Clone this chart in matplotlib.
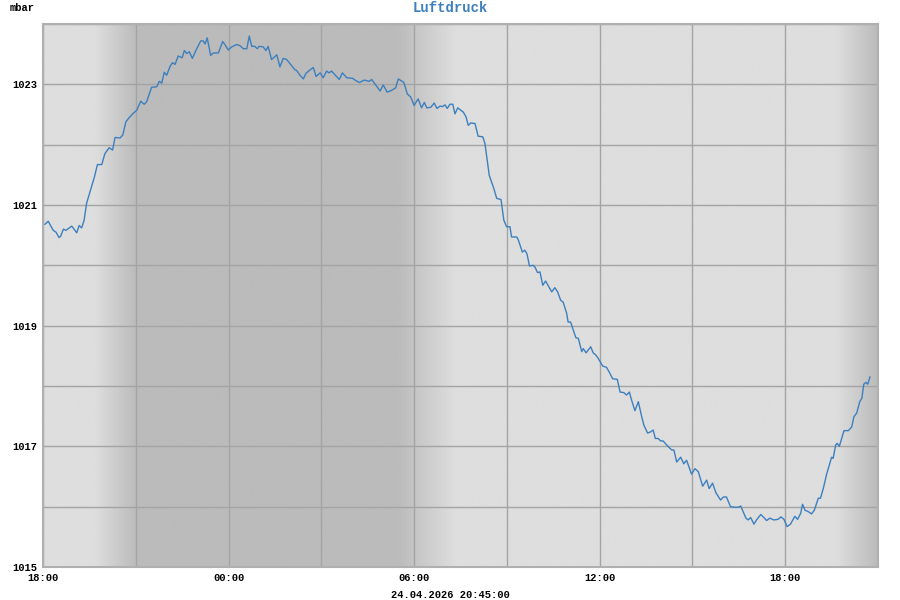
import numpy as np
import matplotlib
matplotlib.use("Agg")
import matplotlib.pyplot as plt
from matplotlib.colors import LinearSegmentedColormap

# hours since 18:00 on the first day
hours = [0.06, 0.17, 0.33, 0.42, 0.52, 0.57, 0.66, 0.74, 0.93, 1.09, 1.17, 1.25, 1.33, 1.41,
         1.66, 1.76, 1.90, 2.00, 2.14, 2.25, 2.33, 2.49, 2.58, 2.68, 2.79, 2.92, 3.03, 3.16,
         3.27, 3.35, 3.51, 3.68, 3.76, 3.84, 3.92, 4.00, 4.11, 4.19, 4.27, 4.37, 4.50, 4.57,
         4.65, 4.73, 4.83, 4.97, 5.10, 5.18, 5.24, 5.31, 5.42, 5.51, 5.67, 5.81, 5.88, 5.99,
         6.10, 6.26, 6.37, 6.48, 6.59, 6.67, 6.75, 6.85, 6.93, 6.99, 7.12, 7.21, 7.28, 7.39,
         7.56, 7.66, 7.77, 7.88, 8.04, 8.15, 8.20, 8.31, 8.42, 8.50, 8.61, 8.74, 8.83, 8.96,
         9.06, 9.17, 9.25, 9.33, 9.58, 9.68, 9.82, 10.01, 10.09, 10.23, 10.39, 10.55, 10.63,
         10.90, 11.00, 11.13, 11.27, 11.40, 11.49, 11.67, 11.78, 11.89, 12.00, 12.13, 12.24,
         12.33, 12.41, 12.54, 12.65, 12.74, 12.84, 12.92, 13.00, 13.07, 13.16, 13.25, 13.32,
         13.41, 13.59, 13.68, 13.75, 13.83, 13.97, 14.07, 14.22, 14.29, 14.43, 14.58, 14.67,
         14.81, 14.90, 14.99, 15.10, 15.15, 15.32, 15.37, 15.50, 15.58, 15.65, 15.73, 15.85,
         15.91, 15.99, 16.07, 16.16, 16.25, 16.45, 16.55, 16.64, 16.74, 16.82, 16.93, 16.98,
         17.06, 17.23, 17.31, 17.42, 17.47, 17.56, 17.71, 17.79, 17.88, 17.95, 18.10, 18.22,
         18.31, 18.42, 18.57, 18.66, 18.78, 18.87, 18.96, 19.03, 19.14, 19.25, 19.36, 19.43,
         19.55, 19.65, 19.73, 19.80, 19.89, 19.97, 20.05, 20.17, 20.33, 20.40, 20.49, 20.62,
         20.72, 20.81, 20.97, 21.08, 21.19, 21.33, 21.46, 21.54, 21.65, 21.76, 21.91, 22.00,
         22.10, 22.23, 22.37, 22.48, 22.56, 22.73, 22.80, 22.88, 22.99, 23.07, 23.21, 23.31,
         23.40, 23.50, 23.63, 23.77, 23.86, 23.96, 24.06, 24.17, 24.31, 24.40, 24.50, 24.56,
         24.64, 24.74, 24.85, 24.94, 25.07, 25.14, 25.23, 25.34, 25.50, 25.55, 25.63, 25.68,
         25.75, 25.90, 26.04, 26.15, 26.22, 26.31, 26.41, 26.48, 26.54, 26.61, 26.67, 26.74]

pressure = [1020.68, 1020.73, 1020.58, 1020.55, 1020.46, 1020.48, 1020.60, 1020.58, 1020.65,
            1020.54, 1020.66, 1020.62, 1020.75, 1021.03, 1021.46, 1021.67, 1021.67, 1021.85,
            1021.95, 1021.91, 1022.12, 1022.11, 1022.16, 1022.38, 1022.45, 1022.52, 1022.57,
            1022.72, 1022.67, 1022.71, 1022.95, 1022.96, 1023.05, 1023.02, 1023.20, 1023.15,
            1023.30, 1023.36, 1023.33, 1023.47, 1023.44, 1023.56, 1023.51, 1023.54, 1023.43,
            1023.59, 1023.72, 1023.72, 1023.67, 1023.77, 1023.48, 1023.52, 1023.52, 1023.71,
            1023.66, 1023.57, 1023.62, 1023.66, 1023.64, 1023.59, 1023.59, 1023.80, 1023.63,
            1023.63, 1023.59, 1023.63, 1023.62, 1023.56, 1023.63, 1023.41, 1023.49, 1023.29,
            1023.43, 1023.41, 1023.31, 1023.24, 1023.23, 1023.15, 1023.09, 1023.18, 1023.23,
            1023.28, 1023.13, 1023.19, 1023.11, 1023.22, 1023.19, 1023.22, 1023.08, 1023.19,
            1023.11, 1023.10, 1023.07, 1023.03, 1023.07, 1023.05, 1023.08, 1022.89, 1022.99,
            1022.87, 1022.90, 1022.94, 1023.09, 1023.03, 1022.84, 1022.79, 1022.65, 1022.76,
            1022.61, 1022.70, 1022.61, 1022.62, 1022.69, 1022.60, 1022.64, 1022.63, 1022.66,
            1022.60, 1022.67, 1022.67, 1022.51, 1022.61, 1022.54, 1022.46, 1022.32, 1022.36,
            1022.35, 1022.14, 1022.13, 1022.02, 1021.49, 1021.27, 1021.11, 1021.09, 1020.75,
            1020.64, 1020.64, 1020.47, 1020.47, 1020.42, 1020.22, 1020.25, 1020.19, 1019.99,
            1020.00, 1019.97, 1019.88, 1019.89, 1019.67, 1019.74, 1019.56, 1019.63, 1019.56,
            1019.42, 1019.39, 1019.21, 1019.06, 1019.06, 1018.80, 1018.79, 1018.57, 1018.62,
            1018.55, 1018.65, 1018.55, 1018.51, 1018.46, 1018.33, 1018.31, 1018.23, 1018.12,
            1018.11, 1017.90, 1017.89, 1017.85, 1017.90, 1017.77, 1017.59, 1017.74, 1017.49,
            1017.35, 1017.22, 1017.24, 1017.27, 1017.13, 1017.13, 1017.09, 1017.09, 1017.02,
            1016.94, 1016.94, 1016.74, 1016.82, 1016.71, 1016.77, 1016.54, 1016.63, 1016.58,
            1016.34, 1016.44, 1016.30, 1016.39, 1016.23, 1016.11, 1016.16, 1016.16, 1016.00,
            1015.99, 1015.99, 1016.01, 1015.81, 1015.78, 1015.82, 1015.71, 1015.78, 1015.87,
            1015.82, 1015.77, 1015.81, 1015.78, 1015.79, 1015.83, 1015.79, 1015.67, 1015.71,
            1015.84, 1015.79, 1015.89, 1016.04, 1015.94, 1015.92, 1015.88, 1015.94, 1016.14,
            1016.14, 1016.30, 1016.54, 1016.82, 1016.80, 1017.02, 1017.05, 1017.00, 1017.26,
            1017.26, 1017.32, 1017.49, 1017.55, 1017.74, 1017.80, 1018.03, 1018.06, 1018.03,
            1018.15]

x_ticks = [0, 6, 12, 18, 24]
x_tick_labels = ["18:00", "00:00", "06:00", "12:00", "18:00"]
y_ticks = [1015, 1017, 1019, 1021, 1023]
title = "Luftdruck"
unit = "mbar"
stamp = "24.04.2026 20:45:00"

# twilight / night shading (hours since 18:00): dusk start, dark, dawn start, light, dusk2 start
dusk1 = (1.68, 3.03)
dawn = (11.45, 13.35)
dusk2 = (25.65, 27.0)

FONT = ["Liberation Mono", "DejaVu Sans Mono"]
plt.rcParams["font.family"] = FONT
plt.rcParams["font.weight"] = "bold"

fig = plt.figure(figsize=(9, 6), dpi=100)
ax = fig.add_axes([43 / 900, 1 - 567 / 600, (878 - 43) / 900, (567 - 24) / 600])
ax.set_xlim(0, 27)
ax.set_ylim(1015, 1024)

# background gradient
xs = np.linspace(0, 27, 2000)
light, dark = 0.0, 1.0
shade = np.zeros_like(xs)
shade = np.where(xs >= dusk1[0], np.clip((xs - dusk1[0]) / (dusk1[1] - dusk1[0]), 0, 1), 0.0)
shade = np.where(xs >= dawn[0], np.clip(1 - (xs - dawn[0]) / (dawn[1] - dawn[0]), 0, 1), shade)
shade = np.where(xs >= dusk2[0], np.clip((xs - dusk2[0]) / (dusk2[1] - dusk2[0]), 0, 1), shade)
cmap = LinearSegmentedColormap.from_list("bg", ["#dedede", "#bbbbbb"])
ax.imshow(shade[np.newaxis, :], aspect="auto", cmap=cmap, vmin=0, vmax=1,
          extent=[0, 27, 1015, 1024], zorder=0, interpolation="bilinear")

# grid
for h in range(0, 28, 3):
    ax.axvline(h, color="#a4a4a4", lw=1.0, zorder=1)
for v in range(1015, 1025):
    ax.axhline(v, color="#a4a4a4", lw=1.0, zorder=1)

ax.plot(hours, pressure, color="#3c7fbf", lw=1.0, zorder=3)

for s in ax.spines.values():
    s.set_color("#b0b0b0")
    s.set_linewidth(1.5)

ax.set_xticks(x_ticks)
ax.set_xticklabels(x_tick_labels)
ax.set_yticks(y_ticks)
ax.set_yticklabels([str(v) for v in y_ticks])
ax.tick_params(length=0, labelsize=7.5, pad=4, colors="#000000")
for lab in ax.get_xticklabels() + ax.get_yticklabels():
    lab.set_fontweight("bold")

fig.text(10 / 900, 1 - 8 / 600, unit, fontsize=7.5, fontweight="bold", va="center", ha="left")
fig.text(450 / 900, 1 - 8 / 600, title, fontsize=10, fontweight="bold", va="center",
         ha="center", color="#3c7fbf")
fig.text(450 / 900, 1 - 595 / 600, stamp, fontsize=7.5, fontweight="bold", va="center",
         ha="center")

fig.savefig("out.png", dpi=100)
